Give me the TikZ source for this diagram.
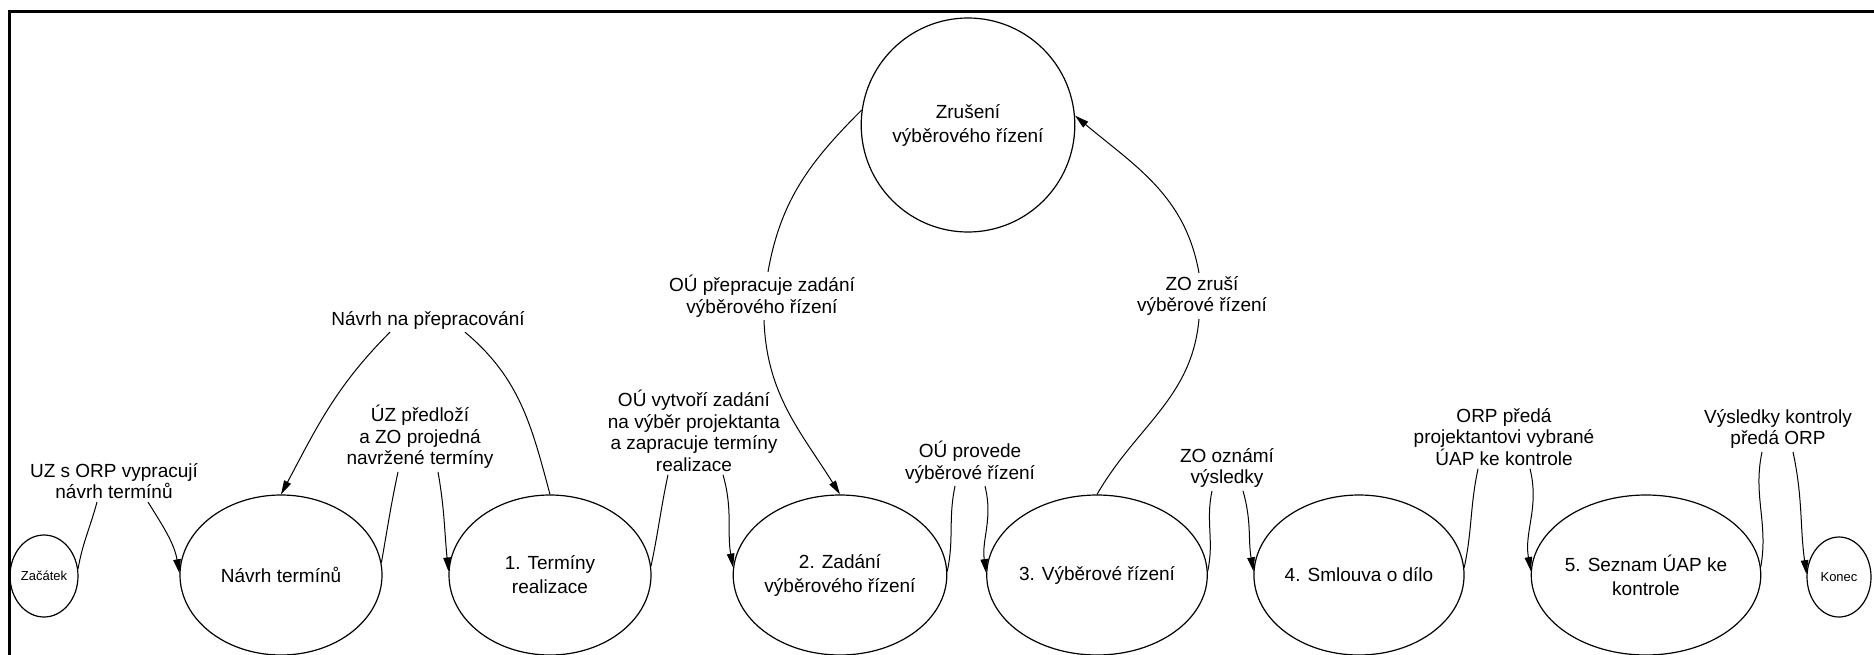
\documentclass[tikz,border=0pt]{standalone}
\usepackage{fontspec}
\setmainfont{Liberation Sans}
\usetikzlibrary{shapes.geometric,arrows.meta,calc}
\begin{document}
\begin{tikzpicture}[x=1pt,y=1pt,
  proc/.style={ellipse,draw,line width=1.2pt,minimum width=202pt,minimum height=160pt,
    inner sep=0pt,align=center,font=\fontsize{19}{24}\selectfont},
  terminal/.style={ellipse,draw,line width=1.2pt,inner sep=0pt,font=\fontsize{13}{16}\selectfont},
  lbl/.style={align=center,inner sep=1pt,font=\fontsize{19}{21.5}\selectfont},
  flow/.style={line width=1pt},
  arrowflow/.style={flow,-{Triangle[length=14pt,width=7.5pt]}}
]
\useasboundingbox (0,0) rectangle (1874,-654);

% frame
\draw[line width=3pt] (9,-660) -- (9,-11) -- (1880,-11);

% states
\node[terminal,minimum width=68pt,minimum height=82pt] (zac) at (44,-576) {Začátek};
\node[proc] (navrh) at (281,-575) {Návrh termínů};
\node[proc] (t1) at (550,-575) {1. Termíny\\realizace};
\node[proc] (zad) at (840,-575) {2. Zadání\\výběrového řízení};
\node[proc] (vyb) at (1097,-575) {3. Výběrové řízení};
\node[proc] (sml) at (1359,-575) {4. Smlouva o dílo};
\node[proc] (sez) at (1646,-575) {5. Seznam ÚAP ke\\kontrole};
\node[terminal,minimum width=64pt,minimum height=80pt] (kon) at (1839,-577) {Konec};
\node[proc,minimum width=204pt,minimum height=214pt] (zrus) at (968,-125) {Zrušení\\výběrového řízení};

% transition labels
\node[lbl] (l1) at (114,-481) {UZ s ORP vypracují\\návrh termínů};
\node[lbl] (l2) at (420,-437) {ÚZ předloží\\a ZO projedná\\navržené termíny};
\node[lbl] (l3) at (694,-431) {OÚ vytvoří zadání\\na výběr projektanta\\a zapracuje termíny\\realizace};
\node[lbl] (l4) at (970,-462) {OÚ provede\\výběrové řízení};
\node[lbl] (l5) at (1227,-468) {ZO oznámí\\výsledky};
\node[lbl] (l6) at (1504,-437) {ORP předá\\projektantovi vybrané\\ÚAP ke kontrole};
\node[lbl] (l7) at (1778,-429) {Výsledky kontroly\\předá ORP};
\node[lbl] (l8) at (428,-320) {Návrh na přepracování};
\node[lbl] (l9) at (762,-296) {OÚ přepracuje zadání\\výběrového řízení};
\node[lbl] (l10) at (1202,-296) {ZO zruší\\výběrové řízení};

% main sequence
\draw[flow] (zac.12) to[out=80,in=-105] ($(l1.south)+(-17,-2)$);
\draw[arrowflow] ($(l1.south)+(34,-2)$) to[out=-58,in=100] (navrh.179);
\draw[flow] (navrh.7) to[out=80,in=-102] ($(l2.south)+(-22,-2)$);
\draw[arrowflow] ($(l2.south)+(18,-2)$) to[out=-80,in=96] (t1.178);
\draw[flow] (t1.5) to[out=78,in=-102] ($(l3.south)+(-26,-2)$);
\draw[arrowflow] ($(l3.south)+(29,-2)$) to[out=-74,in=100] (zad.176);
\draw[flow] (zad.2) to[out=78,in=-102] ($(l4.south)+(-15,-2)$);
\draw[arrowflow] ($(l4.south)+(15,-2)$) to[out=-76,in=98] (vyb.179);
\draw[flow] (vyb.2) to[out=78,in=-102] ($(l5.south)+(-15,-2)$);
\draw[arrowflow] ($(l5.south)+(16,-2)$) to[out=-74,in=100] (sml.178);
\draw[flow] (sml.4) to[out=78,in=-102] ($(l6.south)+(-26,-2)$);
\draw[arrowflow] ($(l6.south)+(26,-2)$) to[out=-76,in=100] (sez.178);
\draw[flow] (sez.4) to[out=80,in=-102] ($(l7.south)+(-16,-2)$);
\draw[arrowflow] ($(l7.south)+(15,-2)$) to[out=-78,in=98] (kon.175);

% rework loop
\draw[flow] (t1.north) to[out=105,in=-40] ($(l8.south)+(37,-2)$);
\draw[arrowflow] ($(l8.south)+(-38,-2)$) to[out=-135,in=62] (navrh.north);

% cancellation loop
\draw[arrowflow] ($(l10.north)+(-3,2)$) to[out=100,in=-40] (zrus.5);
\draw[flow] (vyb.north) to[out=60,in=-95] ($(l10.south)+(-3,-2)$);
\draw[flow] (zrus.172) to[out=-135,in=80] ($(l9.north)+(6,2)$);
\draw[arrowflow] ($(l9.south)+(2,-2)$) to[out=-88,in=122] (zad.north);
\end{tikzpicture}
\end{document}
